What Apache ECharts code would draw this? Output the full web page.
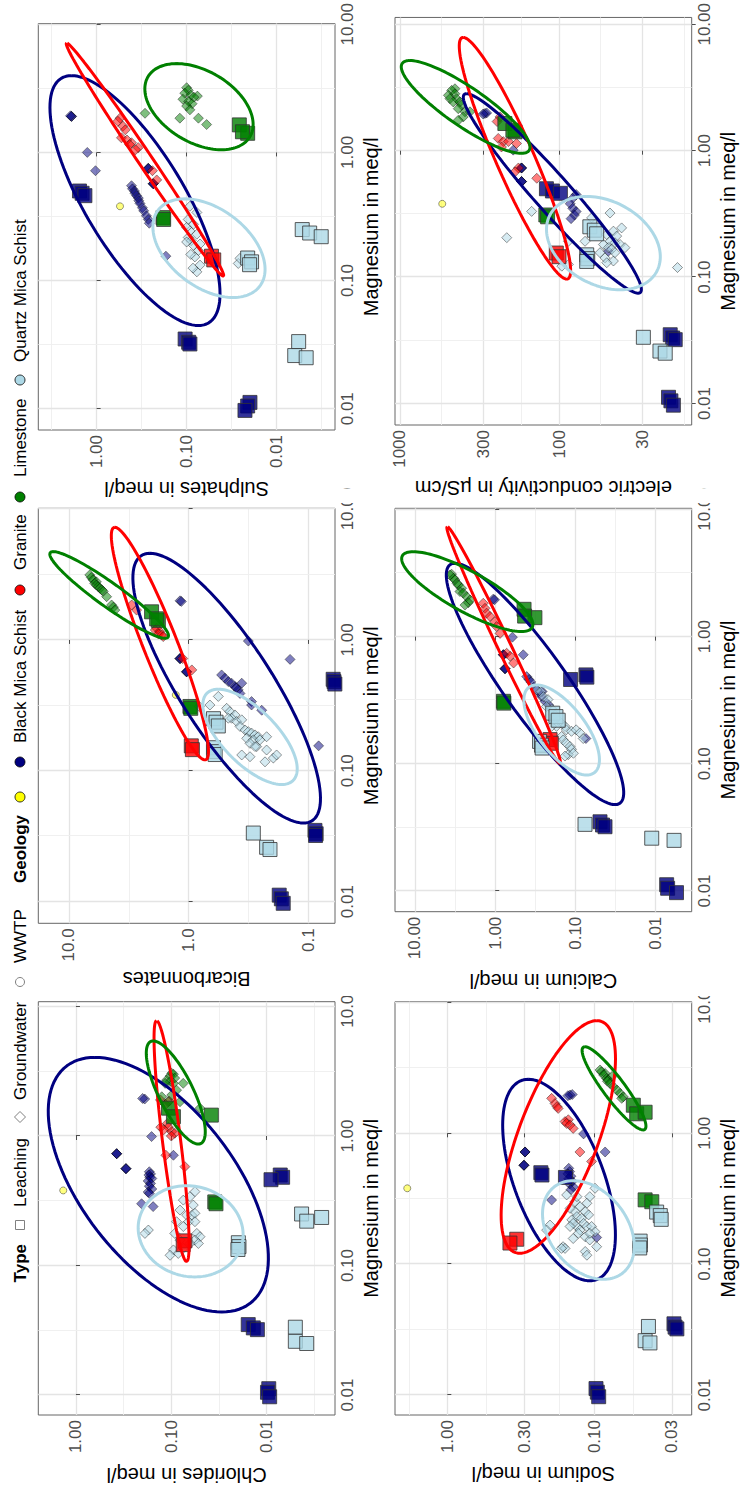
<!DOCTYPE html>
<html><head><meta charset="utf-8">
<script src="https://cdn.jsdelivr.net/npm/echarts@6.0.0/dist/echarts.min.js"></script>
<style>
html,body{margin:0;padding:0;width:742px;height:1488px;overflow:hidden;background:#fff;}
#chart{position:absolute;left:0;top:0;width:1488px;height:742px;transform-origin:0 0;transform:translateY(1488px) rotate(-90deg);background:#fff;}
</style></head><body><div id="chart"></div>
<script>
// ---------- tick values and labels ----------
const mgTicks = [0.01, 0.1, 1, 10];
const mgTickLabels = ['0.01', '0.10', '1.00', '10.00'];
const clTicks = [1, 0.1, 0.01];
const clTickLabels = ['1.00', '0.10', '0.01'];
const hcTicks = [10, 1, 0.1];
const hcTickLabels = ['10.0', '1.0', '0.1'];
const soTicks = [1, 0.1, 0.01];
const soTickLabels = ['1.00', '0.10', '0.01'];
const naTicks = [1, 0.3, 0.1, 0.03];
const naTickLabels = ['1.00', '0.30', '0.10', '0.03'];
const caTicks = [10, 1, 0.1, 0.01];
const caTickLabels = ['10.00', '1.00', '0.10', '0.01'];
const ecTicks = [1000, 300, 100, 30];
const ecTickLabels = ['1000', '300', '100', '30'];

// ---------- categories ----------
const typeNames = ['Leaching', 'Groundwater', 'WWTP'];
const geologyNames = ['', 'Black Mica Schist', 'Granite', 'Limestone', 'Quartz Mica Schist'];

// ---------- Leaching samples: magnesium (meq/l) ----------
const mgLeachBMS = [0.0112, 0.0105, 0.0097, 0.035, 0.033, 0.032, 0.50, 0.48, 0.46];
const mgLeachGran = [0.155, 0.145];
const mgLeachLime = [0.31, 0.30, 1.64, 1.41, 1.45];
const mgLeachQMS = [0.0334, 0.026, 0.025, 0.15, 0.14, 0.133, 0.25, 0.235, 0.22];
const mgWWTP = [0.38];

// Leaching responses
const clLeachBMS = [0.0095, 0.0098, 0.0093, 0.0156, 0.0138, 0.0125, 0.0072, 0.0068, 0.009];
const clLeachGran = [0.072, 0.075];
const clLeachLime = [0.035, 0.034, 0.107, 0.095, 0.038];
const clLeachQMS = [0.005, 0.005, 0.0038, 0.0198, 0.0195, 0.02, 0.0043, 0.00265, 0.0038];
const clWWTP = [1.36];

const hcLeachBMS = [0.175, 0.168, 0.162, 0.088, 0.086, 0.087, 0.062, 0.061, 0.06];
const hcLeachGran = [0.95, 0.93];
const hcLeachLime = [0.975, 0.96, 2.04, 1.79, 1.85];
const hcLeachQMS = [0.288, 0.223, 0.209, 0.62, 0.62, 0.60, 0.62, 0.59, 0.565];
const hcWWTP = [1.28];

const soLeachBMS = [0.0198, 0.021, 0.0225, 0.104, 0.095, 0.092, 1.55, 1.45, 1.35];
const soLeachGran = [0.053, 0.05];
const soLeachLime = [0.183, 0.18, 0.026, 0.021, 0.024];
const soLeachQMS = [0.0057, 0.0063, 0.0047, 0.021, 0.019, 0.020, 0.0052, 0.0043, 0.0032];
const soWWTP = [0.55];

const naLeachBMS = [0.098, 0.096, 0.094, 0.029, 0.0285, 0.0277, 0.232, 0.228, 0.158];
const naLeachGran = [0.338, 0.376];
const naLeachLime = [0.0455, 0.041, 0.0547, 0.0519, 0.0455];
const naLeachQMS = [0.0432, 0.0455, 0.0422, 0.0492, 0.049, 0.0495, 0.038, 0.0359, 0.0354];
const naWWTP = [1.87];

const caLeachBMS = [0.0073, 0.0071, 0.0055, 0.0494, 0.046, 0.0428, 0.074, 0.072, 0.115];
const caLeachGran = [0.207, 0.2];
const caLeachLime = [0.79, 0.78, 0.437, 0.32, 0.43];
const caLeachQMS = [0.076, 0.0112, 0.0059, 0.28, 0.265, 0.26, 0.192, 0.175, 0.164];
const caWWTP = [null];

const ecLeachBMS = [20.5, 19.8, 19.1, 20, 19.3, 18.6, 120, 110, 98];
const ecLeachGran = [104, 100];
const ecLeachLime = [121, 118, 219, 189, 195];
const ecLeachQMS = [29.5, 23.2, 21.5, 67, 66, 67, 64, 60, 58];
const ecWWTP = [542];

// ---------- Groundwater samples: [magnesium, response] ----------
const gwClBMS = [[1.93,0.19],[1.95,0.2],[0.99,0.161],[0.73,0.374],[0.73,0.374],[0.73,0.374],[0.56,0.299],[0.56,0.299],[0.56,0.299],[0.71,0.095],[0.53,0.17],[0.51,0.165],[0.50,0.172],[0.48,0.168],[0.47,0.16],[0.45,0.175],[0.43,0.165],[0.41,0.17],[0.39,0.16],[0.37,0.175],[0.36,0.17],[0.30,0.205],[0.285,0.155]];
const gwClGran = [[1.9,0.13],[1.86,0.105],[1.75,0.115],[1.25,0.11],[1.17,0.129],[1.17,0.107],[1.12,0.12],[1.08,0.099],[1.05,0.092],[1.0,0.1],[0.71,0.114],[0.58,0.072]];
const gwClLime = [[3.05,0.099],[2.9,0.103],[3.0,0.095],[2.8,0.092],[2.7,0.112],[2.63,0.103],[2.55,0.095],[2.55,0.075],[2.55,0.116],[2.26,0.088],[2.07,0.099],[2.01,0.126],[1.84,0.108],[1.84,0.081],[1.64,0.05]];
const gwClQMS = [[0.372,0.0565],[0.34,0.0637],[0.32,0.0748],[0.293,0.0588],[0.268,0.081],[0.245,0.069],[0.245,0.061],[0.253,0.0565],[0.218,0.088],[0.218,0.066],[0.218,0.0565],[0.2,0.0748],[0.177,0.054],[0.167,0.05],[0.177,0.092],[0.157,0.081],[0.157,0.0565],[0.148,0.052],[0.132,0.095],[0.124,0.0845],[0.12,0.103],[0.188,0.174],[0.177,0.189],[0.148,0.0637],[0.136,0.0748]];

const gwHcBMS = [[1.99,1.18],[1.97,1.15],[0.98,0.317],[0.71,0.142],[0.72,1.18],[0.72,1.18],[0.72,1.18],[0.57,1.04],[0.57,1.04],[0.57,1.04],[0.54,0.53],[0.51,0.497],[0.48,0.466],[0.467,0.438],[0.44,0.41],[0.415,0.385],[0.39,0.372],[0.467,0.36],[0.43,0.40],[0.338,0.298],[0.318,0.298],[0.29,0.245],[0.155,0.082]];
const gwHcGran = [[1.85,2.99],[1.69,2.72],[1.23,1.85],[1.19,1.9],[1.16,1.74],[1.11,1.78],[1.09,1.68],[1.06,1.63],[0.72,1.12],[0.59,0.94]];
const gwHcLime = [[3.14,6.7],[3.0,6.5],[2.88,6.3],[2.78,5.9],[2.71,6.1],[2.63,5.9],[2.56,5.7],[2.48,5.5],[2.41,5.3],[2.35,5.17],[2.14,4.84],[1.85,4.4],[1.78,4.25],[1.69,4.13]];
const gwHcQMS = [[0.37,0.565],[0.318,0.664],[0.31,0.815],[0.30,0.481],[0.283,0.452],[0.267,0.41],[0.252,0.438],[0.252,0.466],[0.238,0.397],[0.245,0.36],[0.218,0.372],[0.205,0.338],[0.199,0.317],[0.194,0.298],[0.188,0.279],[0.182,0.262],[0.182,0.223],[0.177,0.327],[0.172,0.288],[0.172,0.254],[0.162,0.307],[0.153,0.27],[0.153,0.279],[0.144,0.223],[0.132,0.36],[0.128,0.307],[0.117,0.23],[0.125,0.196],[0.132,0.184]];

const gwSoBMS = [[1.91,1.9],[1.91,1.9],[1.93,1.95],[1.0,1.27],[0.72,1.03],[0.75,0.267],[0.75,0.267],[0.75,0.267],[0.57,0.235],[0.57,0.235],[0.57,0.235],[0.55,0.41],[0.52,0.40],[0.50,0.38],[0.48,0.375],[0.46,0.36],[0.44,0.344],[0.42,0.34],[0.40,0.33],[0.37,0.31],[0.35,0.30],[0.32,0.28],[0.30,0.267],[0.28,0.26],[0.155,0.17]];
const gwSoGran = [[1.85,0.55],[1.75,0.58],[1.6,0.51],[1.5,0.48],[1.3,0.53],[1.25,0.46],[1.19,0.41],[1.15,0.43],[1.09,0.345],[1.05,0.37],[0.61,0.215],[0.72,0.24]];
const gwSoLime = [[3.2,0.10],[3.05,0.096],[2.9,0.105],[2.8,0.09],[2.75,0.076],[2.7,0.083],[2.6,0.11],[2.5,0.095],[2.4,0.087],[2.3,0.1],[2.15,0.092],[2.02,0.29],[1.85,0.119],[1.85,0.074],[1.65,0.060]];
const gwSoQMS = [[0.38,0.092],[0.34,0.077],[0.30,0.096],[0.275,0.084],[0.244,0.092],[0.23,0.077],[0.217,0.096],[0.205,0.089],[0.193,0.071],[0.188,0.084],[0.172,0.074],[0.153,0.081],[0.132,0.071],[0.117,0.077],[0.136,0.0267],[0.149,0.0256],[0.26,0.1],[0.2,0.1],[0.16,0.09],[0.125,0.085]];

const gwNaBMS = [[1.96,0.147],[1.98,0.142],[1.94,0.152],[0.99,0.119],[0.72,0.085],[0.72,0.297],[0.72,0.297],[0.72,0.297],[0.57,0.302],[0.57,0.302],[0.57,0.302],[0.54,0.15],[0.51,0.148],[0.49,0.152],[0.47,0.145],[0.45,0.15],[0.43,0.142],[0.41,0.148],[0.39,0.14],[0.37,0.145],[0.309,0.196],[0.16,0.097]];
const gwNaGran = [[1.85,0.196],[1.69,0.186],[1.6,0.18],[1.55,0.177],[1.27,0.151],[1.23,0.159],[1.19,0.155],[1.16,0.147],[1.09,0.14],[0.72,0.126],[0.61,0.105]];
const gwNaLime = [[3.05,0.092],[2.95,0.09],[2.87,0.085],[2.79,0.087],[2.72,0.0764],[2.63,0.083],[2.56,0.081],[2.5,0.082],[2.41,0.0787],[2.27,0.0747],[2.14,0.0706],[2.02,0.0673],[1.9,0.064],[1.85,0.0656]];
const gwNaQMS = [[0.38,0.0995],[0.328,0.108],[0.292,0.113],[0.275,0.126],[0.252,0.136],[0.252,0.116],[0.238,0.11],[0.231,0.132],[0.224,0.123],[0.218,0.143],[0.205,0.119],[0.194,0.113],[0.194,0.132],[0.182,0.126],[0.194,0.105],[0.177,0.0995],[0.162,0.116],[0.153,0.108],[0.136,0.097],[0.172,0.129],[0.199,0.201],[0.182,0.212],[0.136,0.164],[0.132,0.159],[0.132,0.168],[0.125,0.116],[0.117,0.113],[0.267,0.147],[0.30,0.136],[0.205,0.14],[0.194,0.147],[0.172,0.108],[0.157,0.14],[0.338,0.155],[0.328,0.132]];

const gwCaBMS = [[1.97,1.06],[1.95,1.02],[0.99,0.61],[0.72,0.447],[0.72,0.79],[0.72,0.79],[0.72,0.79],[0.56,0.755],[0.56,0.755],[0.56,0.755],[0.485,0.405],[0.46,0.38],[0.44,0.36],[0.40,0.33],[0.38,0.30],[0.36,0.28],[0.34,0.265],[0.31,0.24],[0.29,0.215],[0.37,0.26],[0.158,0.074]];
const gwCaGran = [[1.83,1.41],[1.67,1.34],[1.53,1.28],[1.44,1.16],[1.31,1.01],[1.2,0.96],[1.06,0.87],[0.74,0.72],[0.70,0.65],[0.62,0.59]];
const gwCaLime = [[3.1,3.5],[3.05,3.66],[2.88,3.3],[2.79,3.17],[2.63,3.0],[2.55,2.88],[2.4,2.62],[2.26,2.75],[2.2,2.5],[2.06,2.27],[1.94,2.06],[1.85,2.16],[1.77,2.38]];
const gwCaQMS = [[0.381,0.305],[0.37,0.27],[0.337,0.251],[0.32,0.22],[0.282,0.23],[0.27,0.198],[0.242,0.18],[0.22,0.164],[0.208,0.149],[0.197,0.135],[0.185,0.13],[0.18,0.112],[0.185,0.098],[0.175,0.088],[0.158,0.08],[0.164,0.149],[0.154,0.142],[0.145,0.13],[0.137,0.117],[0.13,0.112],[0.118,0.123],[0.115,0.135],[0.121,0.106],[0.197,0.172],[0.22,0.188],[0.197,0.198]];

const gwEcBMS = [[1.97,292],[1.99,285],[1.95,300],[1.01,194],[0.73,172],[0.73,172],[0.73,172],[0.57,172],[0.57,172],[0.57,172],[0.45,78],[0.42,82],[0.38,85],[0.35,82],[0.33,78],[0.31,80],[0.29,84],[0.16,49]];
const gwEcGran = [[1.85,235],[1.7,245],[1.25,241],[1.18,224],[1.18,208],[1.14,185],[1.07,230],[0.73,180],[0.68,189],[0.605,138]];
const gwEcLime = [[3.09,451],[3.0,473],[2.82,451],[2.74,496],[2.58,440],[2.58,485],[2.43,462],[2.43,420],[2.3,410],[2.15,430],[2.03,390],[2.03,363],[1.85,400],[1.74,430]];
const gwEcQMS = [[0.321,47.8],[0.245,40.4],[0.231,45.5],[0.217,50.1],[0.211,43.4],[0.192,47.8],[0.187,44.5],[0.181,52.6],[0.171,49],[0.166,46.6],[0.181,41.3],[0.171,38.5],[0.156,55.2],[0.142,51.4],[0.134,45.5],[0.156,44.5],[0.13,50.1],[0.192,68.6],[0.192,87.3],[0.294,62.4],[0.205,213],[0.331,148.6],[0.122,96],[0.126,87.3],[0.119,18]];

// ---------- ellipse summaries (log10 units): [centre Mg, centre Y, Mg-extreme Mg, Mg-extreme Y, half chord in Y at centre] ----------
const ellCl = [[-0.376,-0.864,0.607,-0.199,0.944],[-0.039,-1.003,0.891,-0.846,0.096],[0.336,-1.047,0.734,-0.811,0.2],[-0.736,-1.203,-0.384,-1.161,0.549]];
const ellHc = [[-0.369,-0.318,0.662,0.323,0.451],[-0.028,0.24,0.861,0.616,0.153],[0.344,0.664,0.675,1.131,0.167],[-0.741,-0.513,-0.377,-0.248,0.292]];
const ellSo = [[-0.376,-0.426,0.599,0.278,0.63],[-0.056,-0.537,0.854,0.333,0.093],[0.357,-1.137,0.693,-0.889,0.548],[-0.747,-1.248,-0.362,-0.981,0.563]];
const ellNa = [[-0.357,-0.758,0.413,-0.55,0.321],[-0.028,-0.753,0.861,-1.014,0.287],[0.344,-1.131,0.662,-0.934,0.09],[-0.739,-0.957,-0.362,-0.855,0.294]];
const ellCa = [[-0.372,-0.496,0.577,0.501,0.478],[-0.066,-0.105,0.865,0.597,0.091],[0.354,0.348,0.668,1.021,0.465],[-0.734,-0.828,-0.38,-0.516,0.353]];
const ellEc = [[-0.338,2.042,0.451,2.581,0.151],[-0.06,2.277,0.896,2.602,0.13],[0.346,2.587,0.713,2.937,0.203],[-0.731,1.721,-0.362,1.826,0.342]];

// ---------- layout / style ----------
const FONT = 'Liberation Sans, Arial, Helvetica, sans-serif';
const GEO_COLORS = ['#000080', '#FF0000', '#008000', '#ADD8E6'];
const WWTP_COLOR = '#FFFF00';
const MG_LEACH = [mgLeachBMS, mgLeachGran, mgLeachLime, mgLeachQMS];

const PANELS = [
  {title:'Chlorides in meq/l', box:[73,38.3,413.3,296.7], xr:[-2.154,1.037], yr:[-2.717,0.395], ticks:clTicks, labels:clTickLabels, gap:50,
   leach:[clLeachBMS,clLeachGran,clLeachLime,clLeachQMS], wwtp:clWWTP, gw:[gwClBMS,gwClGran,gwClLime,gwClQMS], ell:ellCl},
  {title:'Bicarbonnates', box:[564.7,38.3,415,296.7], xr:[-2.166,1.006], yr:[-1.223,1.256], ticks:hcTicks, labels:hcTickLabels, gap:46,
   leach:[hcLeachBMS,hcLeachGran,hcLeachLime,hcLeachQMS], wwtp:hcWWTP, gw:[gwHcBMS,gwHcGran,gwHcLime,gwHcQMS], ell:ellHc},
  {title:'Sulphates in meq/l', box:[1058,38.3,415,296.7], xr:[-2.166,1.006], yr:[-2.648,0.648], ticks:soTicks, labels:soTickLabels, gap:49,
   leach:[soLeachBMS,soLeachGran,soLeachLime,soLeachQMS], wwtp:soWWTP, gw:[gwSoBMS,gwSoGran,gwSoLime,gwSoQMS], ell:ellSo},
  {title:'Sodium in meq/l', box:[73,395,413.3,296.7], xr:[-2.153,1.006], yr:[-1.658,0.355], ticks:naTicks, labels:naTickLabels, gap:49,
   leach:[naLeachBMS,naLeachGran,naLeachLime,naLeachQMS], wwtp:naWWTP, gw:[gwNaBMS,gwNaGran,gwNaLime,gwNaQMS], ell:ellNa},
  {title:'Calcium in meq/l', box:[576.3,395,403.4,296.7], xr:[-2.163,1.009], yr:[-2.449,1.249], ticks:caTicks, labels:caTickLabels, gap:59,
   leach:[caLeachBMS,caLeachGran,caLeachLime,caLeachQMS], wwtp:caWWTP, gw:[gwCaBMS,gwCaGran,gwCaLime,gwCaQMS], ell:ellCa},
  {title:'electric conductivity in µS/cm', box:[1063,395,410,296.7], xr:[-2.170,1.054], yr:[1.166,3.031], ticks:ecTicks, labels:ecTickLabels, gap:53,
   leach:[ecLeachBMS,ecLeachGran,ecLeachLime,ecLeachQMS], wwtp:ecWWTP, gw:[gwEcBMS,gwEcGran,gwEcLime,gwEcQMS], ell:ellEc}
];

const lg = v => Math.log10(v);
function minorOf(ticks, ext) {
  const l = ticks.map(lg).sort((a, b) => a - b);
  const out = [];
  for (let i = 0; i < l.length - 1; i++) out.push((l[i] + l[i + 1]) / 2);
  out.push(l[0] - (l[1] - l[0]) / 2, l[l.length - 1] + (l[l.length - 1] - l[l.length - 2]) / 2);
  return out.filter(v => v > ext[0] && v < ext[1]);
}
function labeler(ticks, labels) {
  const L = ticks.map(lg);
  return v => { const i = L.findIndex(t => Math.abs(t - v) < 1e-6); return i >= 0 ? labels[i] : ''; };
}
function ellipsePoints(p) {
  const [cx, cy, tx, ty, h] = p, ax = tx - cx, ay = ty - cy, pts = [];
  const N = 120;
  for (let k = 0; k <= N; k++) {
    const t = 2 * Math.PI * k / N;
    pts.push([cx + ax * Math.cos(t), cy + ay * Math.cos(t) + h * Math.sin(t)]);
  }
  return pts;
}

const grids = [], xAxes = [], yAxes = [], series = [];
const majorLine = {show: true, lineStyle: {color: '#E4E4E4', width: 1.3}};
const minorLine = {show: true, lineStyle: {color: '#EEEEEE', width: 0.9}};
const tickStyle = {color: '#4D4D4D', width: 1};

PANELS.forEach((p, i) => {
  grids.push({left: p.box[0], top: p.box[1], width: p.box[2], height: p.box[3], show: true,
    borderColor: '#666', borderWidth: 1, backgroundColor: '#fff', containLabel: false});
  const mgMaj = mgTicks.map(lg), yMaj = p.ticks.map(lg);
  xAxes.push({gridIndex: i, type: 'value', min: p.xr[0], max: p.xr[1], position: 'bottom',
    axisLine: {show: false}, axisTick: {show: true, length: 4, lineStyle: tickStyle, customValues: mgMaj},
    axisLabel: {show: true, customValues: mgMaj, formatter: labeler(mgTicks, mgTickLabels), fontSize: 17,
      color: '#4D4D4D', fontFamily: FONT, margin: 4, hideOverlap: false},
    splitLine: majorLine, name: 'Magnesium in meq/l', nameLocation: 'middle', nameGap: 26,
    nameTextStyle: {fontSize: 20, color: '#000', fontFamily: FONT}});
  xAxes.push({gridIndex: i, type: 'value', min: p.xr[0], max: p.xr[1], position: 'top',
    axisLine: {show: false}, axisTick: {show: false, customValues: minorOf(mgTicks, p.xr)},
    axisLabel: {show: false}, splitLine: minorLine});
  yAxes.push({gridIndex: i, type: 'value', min: p.yr[0], max: p.yr[1], position: 'left',
    axisLine: {show: false}, axisTick: {show: true, length: 4, lineStyle: tickStyle, customValues: yMaj},
    axisLabel: {show: true, customValues: yMaj, formatter: labeler(p.ticks, p.labels), fontSize: 17,
      color: '#4D4D4D', fontFamily: FONT, margin: 5, hideOverlap: false},
    splitLine: majorLine, name: p.title, nameLocation: 'middle', nameRotate: 90, nameGap: p.gap,
    nameTextStyle: {fontSize: 20, color: '#000', fontFamily: FONT}});
  yAxes.push({gridIndex: i, type: 'value', min: p.yr[0], max: p.yr[1], position: 'right',
    axisLine: {show: false}, axisTick: {show: false, customValues: minorOf(p.ticks, p.yr)},
    axisLabel: {show: false}, splitLine: minorLine});

  const xi = 2 * i, yi = 2 * i;
  // groundwater diamonds
  p.gw.forEach((arr, g) => {
    series.push({type: 'scatter', name: geologyNames[g + 1], xAxisIndex: xi, yAxisIndex: yi,
      symbol: 'diamond', symbolSize: 10, z: 2, silent: true,
      data: arr.map(d => [lg(d[0]), lg(d[1])]),
      itemStyle: {color: GEO_COLORS[g], opacity: 0.5, borderColor: '#000', borderWidth: 0.8}});
  });
  // leaching squares
  p.leach.forEach((arr, g) => {
    series.push({type: 'scatter', name: geologyNames[g + 1], xAxisIndex: xi, yAxisIndex: yi,
      symbol: 'rect', symbolSize: 14, z: 3, silent: true,
      data: MG_LEACH[g].map((m, k) => arr[k] == null ? null : [lg(m), lg(arr[k])]).filter(Boolean),
      itemStyle: {color: GEO_COLORS[g], borderColor: '#333', borderWidth: 1}});
  });
  // WWTP
  const w = mgWWTP.map((m, k) => p.wwtp[k] == null ? null : [lg(m), lg(p.wwtp[k])]).filter(Boolean);
  if (w.length) series.push({type: 'scatter', name: 'WWTP', xAxisIndex: xi, yAxisIndex: yi,
      symbol: 'circle', symbolSize: 7, z: 3, silent: true, data: w,
      itemStyle: {color: WWTP_COLOR, opacity: 0.5, borderColor: '#000', borderWidth: 0.8}});
  // ellipses
  p.ell.forEach((e, g) => {
    series.push({type: 'line', xAxisIndex: xi, yAxisIndex: yi, data: ellipsePoints(e),
      symbol: 'none', showSymbol: false, silent: true, z: 4,
      lineStyle: {color: GEO_COLORS[g], width: 3}});
  });
});

// ---------- legend (drawn with graphic elements) ----------
const LY = 20;
const txt = (x, s, align, bold) => ({type: 'text', z: 50, style: {text: s, x: x, y: LY, align: align, textAlign: align,
  verticalAlign: 'middle', textVerticalAlign: 'middle', fill: '#000',
  font: (bold ? 'bold ' : '') + '17px ' + FONT}});
const keyStroke = '#808080';
const graphics = [
  txt(244, 'Type', 'right', true),
  {type: 'rect', z: 50, shape: {x: 258.5, y: LY - 4.5, width: 9, height: 9}, style: {fill: '#fff', stroke: keyStroke, lineWidth: 1}},
  txt(281, typeNames[0], 'left'),
  {type: 'polygon', z: 50, shape: {points: [[371, LY - 5.5], [376.5, LY], [371, LY + 5.5], [365.5, LY]]}, style: {fill: '#fff', stroke: keyStroke, lineWidth: 1}},
  txt(388, typeNames[1], 'left'),
  {type: 'circle', z: 50, shape: {cx: 506, cy: LY, r: 4.5}, style: {fill: '#fff', stroke: keyStroke, lineWidth: 1}},
  txt(525, typeNames[2], 'left'),
  txt(605, 'Geology', 'left', true),
  {type: 'circle', z: 50, shape: {cx: 691, cy: LY, r: 5}, style: {fill: WWTP_COLOR, stroke: '#000', lineWidth: 0.8}},
  {type: 'circle', z: 50, shape: {cx: 726, cy: LY, r: 5}, style: {fill: GEO_COLORS[0], stroke: '#000', lineWidth: 0.8}},
  txt(745, geologyNames[1], 'left'),
  {type: 'circle', z: 50, shape: {cx: 898, cy: LY, r: 5}, style: {fill: GEO_COLORS[1], stroke: '#000', lineWidth: 0.8}},
  txt(918, geologyNames[2], 'left'),
  {type: 'circle', z: 50, shape: {cx: 991, cy: LY, r: 5}, style: {fill: GEO_COLORS[2], stroke: '#000', lineWidth: 0.8}},
  txt(1011, geologyNames[3], 'left'),
  {type: 'circle', z: 50, shape: {cx: 1108, cy: LY, r: 5}, style: {fill: GEO_COLORS[3], stroke: '#000', lineWidth: 0.8}},
  txt(1126, geologyNames[4], 'left'),
  // neighbouring sub-plots cover the overflowing "10.00" tick labels
  {type: 'rect', z: 60, shape: {x: 492, y: 337, width: 18, height: 24}, style: {fill: '#fff'}},
  {type: 'rect', z: 60, shape: {x: 492, y: 694, width: 18, height: 24}, style: {fill: '#fff'}},
  {type: 'rect', z: 60, shape: {x: 985, y: 337, width: 14, height: 24}, style: {fill: '#fff'}},
  {type: 'rect', z: 60, shape: {x: 985, y: 694, width: 14, height: 24}, style: {fill: '#fff'}}
];

const chart = echarts.init(document.getElementById('chart'), null, {renderer: 'svg'});
chart.setOption({
  animation: false,
  backgroundColor: '#fff',
  textStyle: {fontFamily: FONT},
  grid: grids, xAxis: xAxes, yAxis: yAxes, series: series, graphic: graphics
});
</script></body></html>
